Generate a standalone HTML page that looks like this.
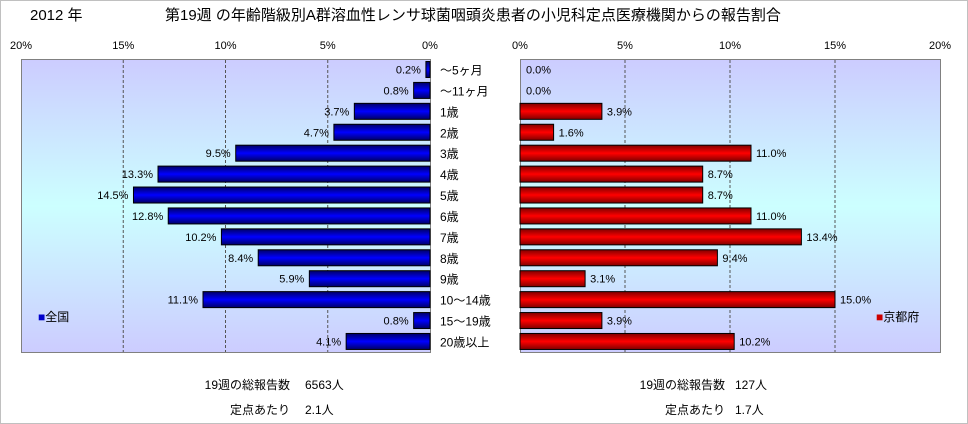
<!DOCTYPE html>
<html><head><meta charset="utf-8"><style>
body{margin:0;background:#fff;}
svg{display:block;font-family:"Liberation Sans","Noto Sans CJK JP",sans-serif;}
</style></head><body>
<svg id="c" width="968" height="424" viewBox="0 0 968 424" xmlns="http://www.w3.org/2000/svg">
<defs>
<linearGradient id="bg" x1="0" y1="0" x2="0" y2="1">
<stop offset="0" stop-color="#ccccff"/><stop offset="0.5" stop-color="#ccffff"/><stop offset="1" stop-color="#ccccff"/>
</linearGradient>
<linearGradient id="gb" x1="0" y1="0" x2="0" y2="1">
<stop offset="0" stop-color="#000066"/><stop offset="0.5" stop-color="#0000ff"/><stop offset="1" stop-color="#000066"/>
</linearGradient>
<linearGradient id="gr" x1="0" y1="0" x2="0" y2="1">
<stop offset="0" stop-color="#800000"/><stop offset="0.5" stop-color="#ff0000"/><stop offset="1" stop-color="#800000"/>
</linearGradient>
</defs>
<rect x="0.5" y="0.5" width="967" height="423" fill="#fff" stroke="#c0c0c0"/>
<text x="30" y="20" font-size="15" fill="#000">2012 年</text>
<text x="165" y="20" font-size="15" fill="#000">第19週 の年齢階級別A群溶血性レンサ球菌咽頭炎患者の小児科定点医療機関からの報告割合</text>
<rect x="21.5" y="59.5" width="409" height="293" fill="url(#bg)" stroke="#808080"/>
<rect x="520.5" y="59.5" width="420" height="293" fill="url(#bg)" stroke="#808080"/>
<g id="g"></g>
<text x="38" y="321" font-size="12"><tspan fill="#0000cc">■</tspan>全国</text>
<text x="876" y="321" font-size="12"><tspan fill="#cc0000">■</tspan>京都府</text>
<text x="290" y="389" font-size="12" text-anchor="end">19週の総報告数</text>
<text x="305" y="389" font-size="12">6563人</text>
<text x="290" y="414" font-size="12" text-anchor="end">定点あたり</text>
<text x="305" y="414" font-size="12">2.1人</text>
<text x="725" y="389" font-size="12" text-anchor="end">19週の総報告数</text>
<text x="735" y="389" font-size="12">127人</text>
<text x="725" y="414" font-size="12" text-anchor="end">定点あたり</text>
<text x="735" y="414" font-size="12">1.7人</text>
</svg>
<script>
const categories=["～5ヶ月","～11ヶ月","1歳","2歳","3歳","4歳","5歳","6歳","7歳","8歳","9歳","10～14歳","15～19歳","20歳以上"];
const nationalValues=[0.2,0.8,3.7,4.7,9.5,13.3,14.5,12.8,10.2,8.4,5.9,11.1,0.8,4.1];
const kyotoValues=[0.0,0.0,3.9,1.6,11.0,8.7,8.7,11.0,13.4,9.4,3.1,15.0,3.9,10.2];
const tickValues=[0,5,10,15,20];
const tickLabels=["0%","5%","10%","15%","20%"];
const NS="http://www.w3.org/2000/svg";
const g=document.getElementById("g");
const xL=v=>430-v*409/20;
const xR=v=>520+v*420/20;
const yC=i=>69.5+i*20.92;
function mk(t,a,txt){const e=document.createElementNS(NS,t);for(const k in a)e.setAttribute(k,a[k]);if(txt!==undefined)e.textContent=txt;g.appendChild(e);return e;}
tickValues.forEach((v,i)=>{
  if(v>0&&v<20){
    const l1=mk("line",{x1:xL(v),x2:xL(v),y1:60,y2:352,stroke:"#555","stroke-dasharray":"3,2"});
    
    
    const l2=mk("line",{x1:xR(v),x2:xR(v),y1:60,y2:352,stroke:"#555","stroke-dasharray":"3,2"});
    
    
  }
  const t1=mk("text",{x:xL(v),y:49,"font-size":11,"text-anchor":"middle"},tickLabels[i]);
  
  
  const t2=mk("text",{x:xR(v),y:49,"font-size":11,"text-anchor":"middle"},tickLabels[i]);
  
  
});
categories.forEach((c,i)=>{
  const y=yC(i);
  const v=nationalValues[i];
  const b=mk("rect",{x:xL(v),y:y-8,width:430-xL(v),height:16,fill:"url(#gb)",stroke:"#000","stroke-width":1});
  
  
  const lv=mk("text",{x:xL(v)-5,y:y+4,"font-size":11,"text-anchor":"end"},v.toFixed(1)+"%");
  
  
  const k=kyotoValues[i];
  if(k>0){
    const r=mk("rect",{x:520,y:y-8,width:xR(k)-520,height:16,fill:"url(#gr)",stroke:"#000","stroke-width":1});
    
    
  }
  const kv=mk("text",{x:xR(k)+(k>0?5:6),y:y+4,"font-size":11},k.toFixed(1)+"%");
  
  
  const cl=mk("text",{x:440,y:y+5,"font-size":12},c);
  
  
});
</script>
</body></html>
